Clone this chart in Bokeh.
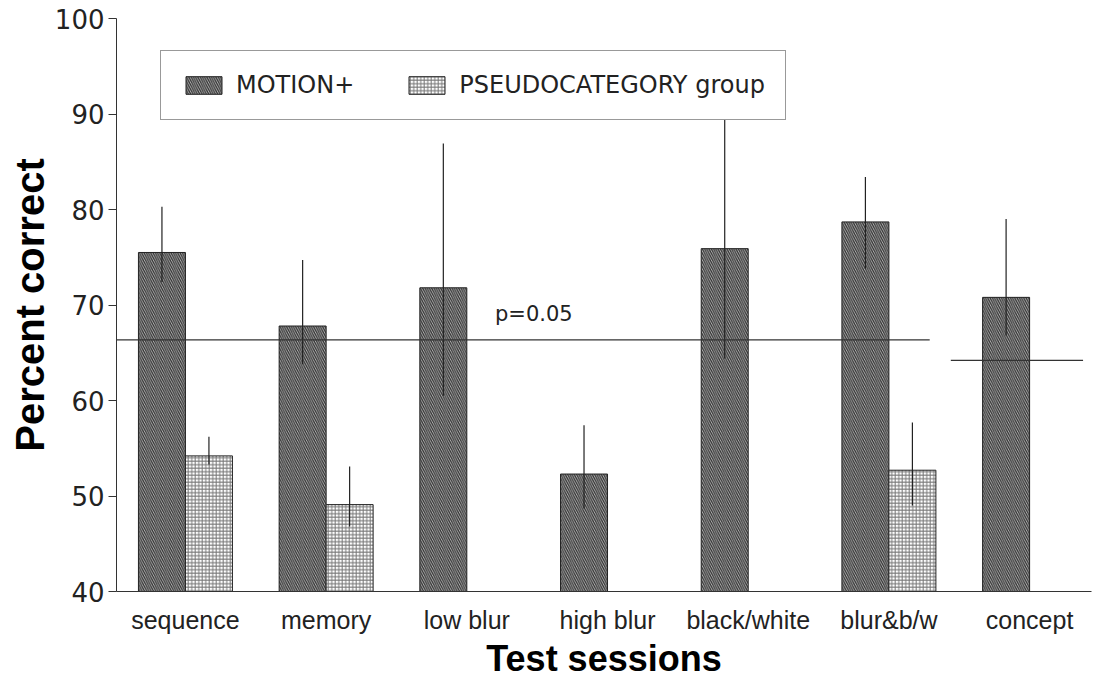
from bokeh.plotting import figure
from bokeh.models import (ColumnDataSource, FixedTicker, Legend, LegendItem, Label)
from bokeh.embed import file_html
from bokeh.resources import INLINE

# Test sessions and mean percent correct per group
categories = ["sequence", "memory", "low blur", "high blur",
              "black/white", "blur&b/w", "concept"]
motion = [75.5, 67.8, 71.8, 52.3, 75.9, 78.7, 70.8]
motion_hi = [80.3, 74.7, 86.9, 57.4, 90.4, 83.4, 79.0]
motion_lo = [72.4, 63.8, 60.5, 48.7, 64.4, 73.8, 66.8]
pseudo = [54.2, 49.1, None, None, None, 52.7, None]
pseudo_hi = [56.2, 53.1, None, None, None, 57.7, None]
pseudo_lo = [53.3, 46.8, None, None, None, 49.0, None]

# Chance thresholds (p = 0.05): value and horizontal extent in category units
thr_value = [66.35, 64.2]
thr_x0 = [-0.49, 5.44]
thr_x1 = [5.29, 6.38]

y_ticks = [40, 50, 60, 70, 80, 90, 100]

BAR_W = 0.334
BASE = 40

idx = list(range(len(categories)))
m_src = ColumnDataSource(dict(
    x=[i - BAR_W / 2 for i in idx], top=motion, hi=motion_hi, lo=motion_lo))
pk = [i for i in idx if pseudo[i] is not None]
p_src = ColumnDataSource(dict(
    x=[i + BAR_W / 2 for i in pk], top=[pseudo[i] for i in pk],
    hi=[pseudo_hi[i] for i in pk], lo=[pseudo_lo[i] for i in pk]))

p = figure(width=1109, height=681, x_range=(-0.49, 6.44), y_range=(40, 100),
           output_backend="svg", toolbar_location=None,
           min_border_left=116, min_border_right=18,
           min_border_top=18, min_border_bottom=90)
p.outline_line_color = None
p.xgrid.grid_line_color = None
p.ygrid.grid_line_color = None
p.background_fill_color = "white"

r_m = p.vbar(x="x", top="top", bottom=BASE, width=BAR_W, source=m_src,
             fill_color="#b4b4b4", line_color="#222222", line_width=1,
             hatch_pattern="\\", hatch_color="#303030", hatch_scale=4.5,
             hatch_weight=1.2)
r_p = p.vbar(x="x", top="top", bottom=BASE, width=BAR_W, source=p_src,
             fill_color="white", line_color="#222222", line_width=1,
             hatch_pattern="+", hatch_color="#777777", hatch_scale=3.5,
             hatch_weight=1.0)

# error bars
p.segment(x0="x", y0="lo", x1="x", y1="hi", source=m_src,
          line_color="#222222", line_width=1.2)
p.segment(x0="x", y0="lo", x1="x", y1="hi", source=p_src,
          line_color="#222222", line_width=1.2)

# significance lines
p.segment(x0=thr_x0, y0=thr_value, x1=thr_x1, y1=thr_value,
          line_color="#333333", line_width=1.2)
p.add_layout(Label(x=2.2, y=67.85, text="p=0.05", text_font="DejaVu Sans",
                   text_font_size="21px", text_color="#222222"))

# axes
p.yaxis.ticker = FixedTicker(ticks=y_ticks)
p.yaxis.major_tick_in = 0
p.yaxis.major_tick_out = 8
p.yaxis.minor_tick_line_color = None
p.yaxis.axis_line_color = "#333333"
p.yaxis.major_tick_line_color = "#333333"
p.yaxis.major_label_text_font = "DejaVu Sans"
p.yaxis.major_label_text_font_size = "26px"
p.yaxis.major_label_text_color = "#222222"
p.yaxis.major_label_standoff = 4
p.yaxis.axis_label = "Percent correct"
p.yaxis.axis_label_text_font = "Liberation Sans"
p.yaxis.axis_label_text_font_style = "bold"
p.yaxis.axis_label_text_font_size = "40px"
p.yaxis.axis_label_text_color = "black"
p.yaxis.axis_label_standoff = 0

p.xaxis.ticker = FixedTicker(ticks=idx)
p.xaxis.major_label_overrides = {i: c for i, c in zip(idx, categories)}
p.xaxis.major_tick_line_color = None
p.xaxis.minor_tick_line_color = None
p.xaxis.axis_line_color = "#333333"
p.xaxis.major_label_text_font = "Liberation Sans"
p.xaxis.major_label_text_font_size = "25px"
p.xaxis.major_label_text_color = "#222222"
p.xaxis.major_label_standoff = 8
p.xaxis.axis_label = "Test sessions"
p.xaxis.axis_label_text_font = "Liberation Sans"
p.xaxis.axis_label_text_font_style = "bold"
p.xaxis.axis_label_text_font_size = "36px"
p.xaxis.axis_label_text_color = "black"
p.xaxis.axis_label_standoff = 1

legend = Legend(items=[LegendItem(label="MOTION+", renderers=[r_m]),
                       LegendItem(label="PSEUDOCATEGORY group", renderers=[r_p])],
                orientation="horizontal", location=(44, 471),
                padding=20, spacing=50, glyph_width=45, glyph_height=22,
                label_standoff=10, label_text_font="DejaVu Sans",
                label_text_font_size="24px", label_text_color="#222222",
                border_line_color="#333333", border_line_width=1,
                background_fill_color="white", background_fill_alpha=1,
                margin=0)
p.add_layout(legend, "center")

open("out.html", "w").write(file_html(p, INLINE))
